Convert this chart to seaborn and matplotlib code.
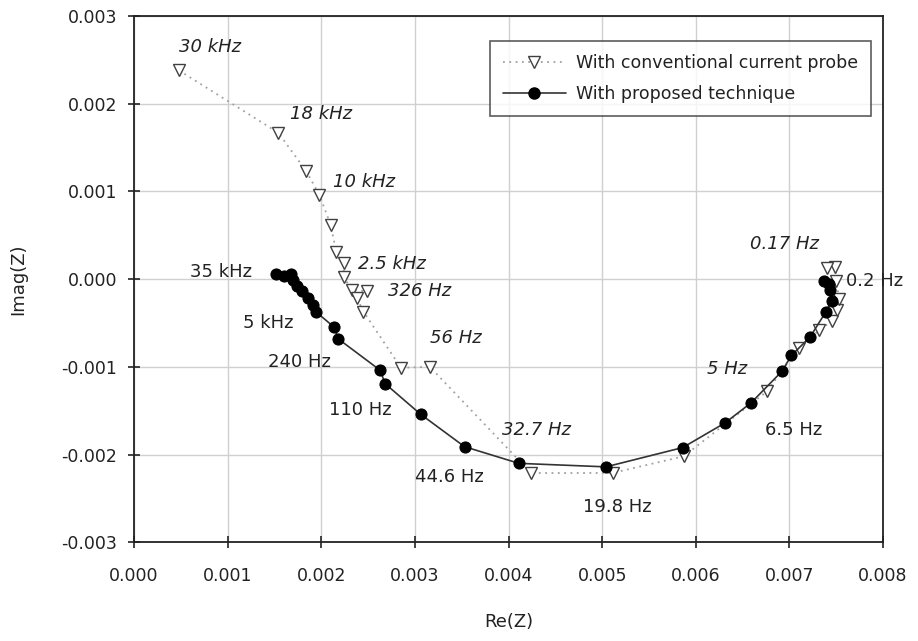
import numpy as np
import pandas as pd
import seaborn as sns
import matplotlib
matplotlib.use("Agg")
import matplotlib.pyplot as plt
from matplotlib.ticker import FormatStrFormatter, MultipleLocator
from matplotlib.lines import Line2D

# --- data ---
conv_x = [0.00048, 0.00154, 0.00184, 0.00198, 0.00210, 0.00216, 0.00224, 0.00224,
          0.00233, 0.00249, 0.00238, 0.00245, 0.00285, 0.00316, 0.00424, 0.00511,
          0.00587, 0.00676, 0.00710, 0.00732, 0.00745, 0.00751, 0.00753, 0.00750,
          0.00749, 0.00740]
conv_y = [0.00238, 0.00167, 0.00123, 0.00096, 0.00062, 0.00031, 0.00018, 0.00002,
          -0.00012, -0.00014, -0.00021, -0.00037, -0.00101, -0.00100, -0.00221, -0.00221,
          -0.00202, -0.00128, -0.00078, -0.00058, -0.00048, -0.00035, -0.00023, -0.00002,
          0.00014, 0.00013]

prop_x = [0.00152, 0.00160, 0.00168, 0.00170, 0.00174, 0.00179, 0.00186, 0.00191,
          0.00194, 0.00214, 0.00218, 0.00263, 0.00268, 0.00306, 0.00353, 0.00411,
          0.00504, 0.00586, 0.00631, 0.00659, 0.00692, 0.00702, 0.00722, 0.00739,
          0.00745, 0.00743, 0.00742, 0.00737]
prop_y = [0.00006, 0.00004, 0.00006, -0.00001, -0.00008, -0.00013, -0.00022, -0.00029,
          -0.00037, -0.00055, -0.00068, -0.00104, -0.00119, -0.00154, -0.00191, -0.00210,
          -0.00214, -0.00192, -0.00164, -0.00141, -0.00105, -0.00087, -0.00066, -0.00037,
          -0.00025, -0.00012, -0.00006, -0.00002]

conv_labels = ["30 kHz", "18 kHz", "10 kHz", "2.5 kHz", "326 Hz", "56 Hz", "32.7 Hz", "0.17 Hz", "5 Hz"]
conv_label_x = [0.00048, 0.00167, 0.00213, 0.00239, 0.00271, 0.00316, 0.00393, 0.00658, 0.00612]
conv_label_y = [0.00265, 0.00188, 0.00111, 0.00017, -0.00014, -0.00067, -0.00172, 0.00040, -0.00103]

prop_labels = ["35 kHz", "5 kHz", "240 Hz", "110 Hz", "44.6 Hz", "19.8 Hz", "6.5 Hz", "0.2 Hz"]
prop_label_x = [0.00060, 0.00116, 0.00143, 0.00208, 0.00300, 0.00479, 0.00674, 0.00760]
prop_label_y = [0.00008, -0.00050, -0.00095, -0.00149, -0.00225, -0.00260, -0.00172, -0.00002]

series_names = ["With conventional current probe", "With proposed technique"]

sns.set_theme(style="white")
plt.rcParams['font.family'] = ['DejaVu Sans']

fig = plt.figure(figsize=(9.18, 6.41), dpi=100)
ax = fig.add_axes([0.146, 0.154, 0.816, 0.821])

df_c = pd.DataFrame({"x": conv_x, "y": conv_y})
df_p = pd.DataFrame({"x": prop_x, "y": prop_y})

sns.lineplot(data=df_c, x="x", y="y", sort=False, estimator=None, ax=ax,
             color="#a0a0a0", linestyle=(0, (1, 2.5)), linewidth=1.3,
             marker="v", markersize=9, markerfacecolor="white",
             markeredgecolor="#404040", markeredgewidth=1.0, zorder=3)
sns.lineplot(data=df_p, x="x", y="y", sort=False, estimator=None, ax=ax,
             color="#333333", linestyle="-", linewidth=1.2,
             marker="o", markersize=8, markerfacecolor="black",
             markeredgecolor="black", zorder=4)

for t, x, y in zip(conv_labels, conv_label_x, conv_label_y):
    ax.text(x, y, t, fontsize=13, style="italic", color="#222222", ha="left", va="center")
for t, x, y in zip(prop_labels, prop_label_x, prop_label_y):
    ax.text(x, y, t, fontsize=13, color="#222222", ha="left", va="center", clip_on=False)

ax.set_xlim(0, 0.008)
ax.set_ylim(-0.003, 0.003)
ax.xaxis.set_major_locator(MultipleLocator(0.001))
ax.yaxis.set_major_locator(MultipleLocator(0.001))
ax.xaxis.set_major_formatter(FormatStrFormatter('%.3f'))
ax.yaxis.set_major_formatter(FormatStrFormatter('%.3f'))
ax.grid(True, color="#d0d0d0", linewidth=1.0)
ax.set_axisbelow(True)
for s in ax.spines.values():
    s.set_color("#222222")
    s.set_linewidth(1.3)
ax.tick_params(axis="both", direction="inout", length=8, width=1.2, color="#222222",
               labelsize=12.5, labelcolor="#222222", bottom=True, left=True, pad=8)
ax.tick_params(axis="x", pad=14)
ax.set_xlabel("Re(Z)", fontsize=13, color="#222222", labelpad=20)
ax.set_ylabel("Imag(Z)", fontsize=13, color="#222222", labelpad=25)

handles = [
    Line2D([], [], color="#a0a0a0", linestyle=(0, (1, 2.5)), linewidth=1.3, marker="v",
           markersize=9, markerfacecolor="white", markeredgecolor="#404040"),
    Line2D([], [], color="#333333", linestyle="-", linewidth=1.2, marker="o",
           markersize=8, markerfacecolor="black", markeredgecolor="black"),
]
leg = ax.legend(handles, series_names, loc="upper right", bbox_to_anchor=(0.984, 0.953),
                fontsize=12.5, frameon=True, fancybox=False, edgecolor="#333333",
                handlelength=3.6, handletextpad=0.6, borderpad=0.75, labelspacing=0.75,
                borderaxespad=0)
leg.get_frame().set_linewidth(1.2)
for t in leg.get_texts():
    t.set_color("#222222")

fig.savefig("out.png", dpi=100)
